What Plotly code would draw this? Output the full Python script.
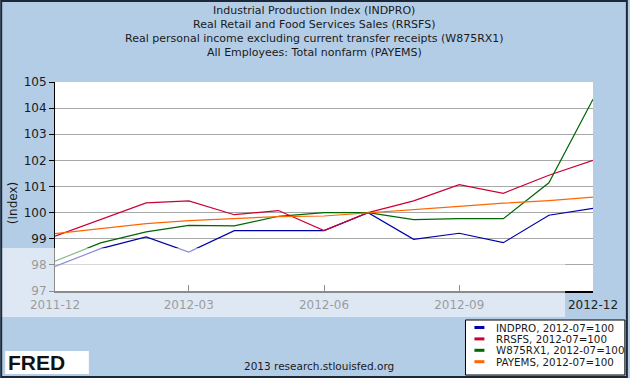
import plotly.graph_objects as go

# ---- data (index, 2012-07=100) ----
months = ["2011-12-01", "2012-01-01", "2012-02-01", "2012-03-01", "2012-04-01",
          "2012-05-01", "2012-06-01", "2012-07-01", "2012-08-01", "2012-09-01",
          "2012-10-01", "2012-11-01", "2012-12-01"]
indpro = [97.94, 98.62, 99.07, 98.49, 99.31, 99.31, 99.31, 100.0, 98.98, 99.21, 98.85, 99.90, 100.16]
rrsfs = [99.10, 99.75, 100.37, 100.45, 99.92, 100.08, 99.31, 100.0, 100.45, 101.07, 100.74, 101.43, 102.00]
w875rx1 = [98.14, 98.84, 99.26, 99.51, 99.49, 99.86, 100.0, 100.0, 99.73, 99.77, 99.77, 101.14, 104.34]
payems = [99.20, 99.39, 99.58, 99.69, 99.77, 99.85, 99.87, 100.0, 100.13, 100.24, 100.36, 100.46, 100.59]

series_names = ["INDPRO, 2012-07=100", "RRSFS, 2012-07=100", "W875RX1, 2012-07=100", "PAYEMS, 2012-07=100"]
series_colors = ["#0000aa", "#cc0033", "#006600", "#ff6600"]
x_tickvals = ["2011-12-01", "2012-03-01", "2012-06-01", "2012-09-01", "2012-12-01"]
x_ticktext = ["2011-12", "2012-03", "2012-06", "2012-09", "2012-12"]
y_tickvals = [97, 98, 99, 100, 101, 102, 103, 104, 105]
title_lines = ["Industrial Production Index (INDPRO)",
               "Real Retail and Food Services Sales (RRSFS)",
               "Real personal income excluding current transfer receipts (W875RX1)",
               "All Employees: Total nonfarm (PAYEMS)"]

W, H = 630, 378
L, R, T, B = 55, 35, 82, 87
PW, PH = W - L - R, H - T - B
FONT = "Verdana, DejaVu Sans, sans-serif"
BG = "#b4cde6"


def px(xp):
    return (xp - L) / PW


def py(yp):
    return (H - B - yp) / PH


fig = go.Figure()
for vals, name, col in zip([indpro, rrsfs, w875rx1, payems], series_names, series_colors):
    fig.add_trace(go.Scatter(x=months, y=vals, mode="lines", name=name,
                             line=dict(color=col, width=1.2), showlegend=False))

annotations = []
for i, t in enumerate(title_lines):
    annotations.append(dict(text=t, x=px(315), y=py(11 + i * 13.7), xref="paper", yref="paper",
                            showarrow=False, xanchor="center", yanchor="middle",
                            font=dict(family=FONT, size=11, color="#1a1a1a")))
annotations.append(dict(text="(Index)", x=px(13), y=py(203), xref="paper", yref="paper",
                        showarrow=False, textangle=-90, xanchor="center", yanchor="middle",
                        font=dict(family=FONT, size=12, color="#1a1a1a")))
annotations.append(dict(text="2013 research.stlouisfed.org", x=px(320), y=py(366), xref="paper",
                        yref="paper", showarrow=False, xanchor="center", yanchor="middle",
                        font=dict(family=FONT, size=10.5, color="#1a1a1a")))
annotations.append(dict(text="<b>FRED</b>", x=px(6), y=py(362), xref="paper", yref="paper",
                        showarrow=False, xanchor="left", yanchor="middle",
                        font=dict(family="Liberation Sans, Arial", size=21, color="#111111")))

shapes = [
    # watermark-like light band
    dict(type="rect", xref="paper", yref="paper", x0=px(0), x1=px(567), y0=py(317), y1=py(248),
         fillcolor="rgba(255,255,255,0.55)", line=dict(width=0), layer="above"),
    # legend box
    dict(type="rect", xref="paper", yref="paper", x0=px(467), x1=px(627), y0=py(375), y1=py(320),
         fillcolor="white", line=dict(color="black", width=1), layer="below"),
    # FRED logo box
    dict(type="rect", xref="paper", yref="paper", x0=px(5), x1=px(89), y0=py(374), y1=py(351),
         fillcolor="white", line=dict(width=0), layer="below"),
]

# legend entries (manual)
for i, (name, col) in enumerate(zip(series_names, series_colors)):
    yp = 327.5 + i * 11.4
    shapes.append(dict(type="line", xref="paper", yref="paper", x0=px(476), x1=px(486),
                       y0=py(yp), y1=py(yp), line=dict(color=col, width=3)))
    annotations.append(dict(text=name, x=px(496), y=py(yp), xref="paper", yref="paper",
                            showarrow=False, xanchor="left", yanchor="middle",
                            font=dict(family=FONT, size=10.3, color="#1a1a1a")))

# outer frame
shapes.append(dict(type="rect", xref="paper", yref="paper", x0=px(1), x1=px(629), y0=py(377), y1=py(1),
                   line=dict(color="#1c2838", width=2), layer="above"))

fig.update_layout(
    width=W, height=H,
    margin=dict(l=L, r=R, t=T, b=B, pad=0),
    paper_bgcolor=BG, plot_bgcolor="white",
    showlegend=False,
    annotations=annotations, shapes=shapes,
    font=dict(family=FONT, size=12, color="#1a1a1a"),
)
fig.update_xaxes(range=["2011-12-01", "2012-12-01"], tickvals=x_tickvals, ticktext=x_ticktext,
                 showgrid=False, showline=True, linecolor="black", linewidth=1.5,
                 ticks="inside", ticklen=6, tickcolor="black", ticklabelstandoff=2,
                 tickfont=dict(family=FONT, size=12, color="#222222"), zeroline=False)
fig.update_yaxes(range=[97, 105], tickvals=y_tickvals, showgrid=True, gridcolor="#a8a8a8",
                 gridwidth=1, showline=True, linecolor="black", linewidth=1,
                 ticks="outside", ticklen=5, tickcolor="black",
                 tickfont=dict(family=FONT, size=12, color="#1a1a1a"), zeroline=False)

fig.write_html("out.html", config={"displayModeBar": False})
with open("out.html", encoding="utf-8") as f:
    html = f.read()
html = html.replace("<body>", '<body style="margin:0;padding:0;overflow:hidden">', 1)
with open("out.html", "w", encoding="utf-8") as f:
    f.write(html)
